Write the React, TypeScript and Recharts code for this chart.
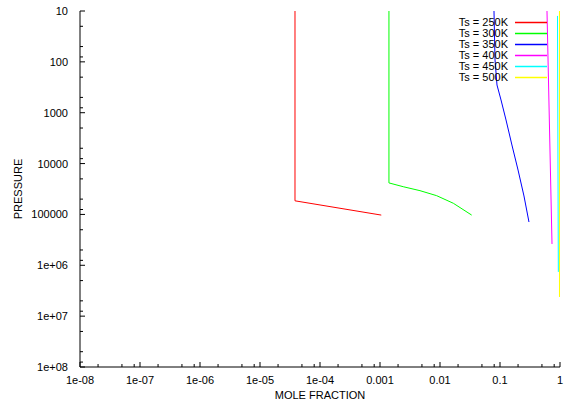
import React from 'react';
import { LineChart, Line, XAxis, YAxis, Legend } from 'recharts';

// mole fraction / pressure, one pair of arrays per surface temperature
const ts250X = [3.83e-5, 3.83e-5, 1.05e-3];
const ts250P = [10, 5.4e4, 1.03e5];

const ts300X = [1.41e-3, 1.41e-3, 2.44e-3, 4.64e-3, 8.8e-3, 1.67e-2, 3.37e-2];
const ts300P = [10, 2.4e4, 2.85e4, 3.41e4, 4.28e4, 6.04e4, 1.03e5];

const ts350X = [0.0794, 0.0826, 0.0891, 0.104, 0.126, 0.158, 0.2, 0.251, 0.304];
const ts350P = [10, 92, 285, 562, 1390, 4310, 1.34e4, 4.34e4, 1.41e5];

const ts400X = [0.607, 0.736];
const ts400P = [10, 3.81e5];

const ts450X = [0.908, 0.938];
const ts450P = [12.5, 1.35e6];

const ts500X = [0.98, 0.98];
const ts500P = [10, 4.2e6];

const seriesNames = ['Ts = 250K', 'Ts = 300K', 'Ts = 350K', 'Ts = 400K', 'Ts = 450K', 'Ts = 500K'];
const seriesColors = ['#ff0000', '#00ff00', '#0000ff', '#ff00ff', '#00ffff', '#ffff00'];

const xMajor = [1e-8, 1e-7, 1e-6, 1e-5, 1e-4, 1e-3, 1e-2, 1e-1, 1];
const xLabels = ['1e-08', '1e-07', '1e-06', '1e-05', '1e-04', '0.001', '0.01', '0.1', '1'];
const yMajor = [10, 100, 1000, 1e4, 1e5, 1e6, 1e7, 1e8];
const yLabels = ['10', '100', '1000', '10000', '100000', '1e+06', '1e+07', '1e+08'];
const minorSteps = [2, 5, 8];

const withMinor = (majors: number[]) => {
  const out: number[] = [];
  majors.forEach((m, i) => {
    out.push(m);
    if (i < majors.length - 1) minorSteps.forEach((s) => out.push(m * s));
  });
  return out;
};

const xTicks = withMinor(xMajor);
const yTicks = withMinor(yMajor);

const toPoints = (xs: number[], ps: number[]) => xs.map((x, i) => ({ x, p: ps[i] }));

const series = [
  toPoints(ts250X, ts250P),
  toPoints(ts300X, ts300P),
  toPoints(ts350X, ts350P),
  toPoints(ts400X, ts400P),
  toPoints(ts450X, ts450P),
  toPoints(ts500X, ts500P),
];

const FONT = '"Liberation Sans", Arial, Helvetica, sans-serif';

const majorIndex = (majors: number[], v: number) =>
  majors.findIndex((m) => Math.abs(m - v) / m < 1e-9);

const AxisTick = (props: any) => {
  const { x, y, payload, side, majors, labels } = props;
  const idx = majorIndex(majors, payload.value);
  const len = idx >= 0 ? 5 : 3;
  let line;
  let label = null;
  if (side === 'bottom') {
    line = <line x1={x} y1={y} x2={x} y2={y - len} stroke="#000" />;
    if (idx >= 0)
      label = (
        <text x={x} y={y + 17} textAnchor="middle" fontSize={11} fontFamily={FONT} fill="#000">
          {labels[idx]}
        </text>
      );
  } else if (side === 'top') {
    line = <line x1={x} y1={y} x2={x} y2={y + len} stroke="#000" />;
  } else if (side === 'left') {
    line = <line x1={x} y1={y} x2={x + len} y2={y} stroke="#000" />;
    if (idx >= 0)
      label = (
        <text x={x - 12} y={y + 4} textAnchor="end" fontSize={11} fontFamily={FONT} fill="#000">
          {labels[idx]}
        </text>
      );
  } else {
    line = <line x1={x} y1={y} x2={x - len} y2={y} stroke="#000" />;
  }
  return (
    <g>
      {line}
      {label}
    </g>
  );
};

const LegendBox = (props: any) => {
  const items = props.payload || [];
  return (
    <div style={{ fontFamily: FONT, fontSize: 11, lineHeight: '11px' }}>
      {items.map((it: any) => (
        <div key={it.value} style={{ display: 'flex', alignItems: 'center', justifyContent: 'flex-end', height: 11 }}>
          <span style={{ color: '#000', marginRight: 7 }}>{it.value}</span>
          <svg width={32} height={3}>
            <line x1={0} y1={1.5} x2={32} y2={1.5} stroke={it.color} strokeWidth={1.5} />
          </svg>
        </div>
      ))}
    </div>
  );
};

export default function App() {
  return (
    <div style={{ position: 'absolute', left: 0, top: 0, background: '#fff' }}>
      <LineChart width={569} height={406} margin={{ top: 11, right: 9, bottom: 0, left: 0 }}>
        <XAxis
          xAxisId="bottom"
          type="number"
          dataKey="x"
          scale="log"
          domain={[1e-8, 1]}
          allowDataOverflow
          ticks={xTicks}
          interval={0}
          tickSize={0}
          tickMargin={0}
          tickLine={false}
          height={39}
          axisLine={{ stroke: '#000' }}
          tick={(p: any) => <AxisTick {...p} side="bottom" majors={xMajor} labels={xLabels} />}
          label={{
            content: ({ viewBox }: any) => (
              <text
                x={viewBox.x + viewBox.width / 2}
                y={viewBox.y + 32}
                textAnchor="middle"
                fontSize={11}
                fontFamily={FONT}
                fill="#000"
              >
                MOLE FRACTION
              </text>
            ),
          }}
        />
        <XAxis
          xAxisId="top"
          orientation="top"
          type="number"
          dataKey="x"
          scale="log"
          domain={[1e-8, 1]}
          allowDataOverflow
          ticks={xTicks}
          interval={0}
          tickSize={0}
          tickMargin={0}
          tickLine={false}
          height={0}
          axisLine={{ stroke: '#000' }}
          tick={(p: any) => <AxisTick {...p} side="top" majors={xMajor} labels={xLabels} />}
        />
        <YAxis
          yAxisId="left"
          type="number"
          dataKey="p"
          scale="log"
          reversed
          domain={[10, 1e8]}
          allowDataOverflow
          ticks={yTicks}
          interval={0}
          tickSize={0}
          tickMargin={0}
          tickLine={false}
          width={80}
          axisLine={{ stroke: '#000' }}
          tick={(p: any) => <AxisTick {...p} side="left" majors={yMajor} labels={yLabels} />}
          label={{
            content: ({ viewBox }: any) => {
              const cx = viewBox.x + 22;
              const cy = viewBox.y + viewBox.height / 2;
              return (
                <text
                  x={cx}
                  y={cy}
                  transform={`rotate(-90 ${cx} ${cy})`}
                  textAnchor="middle"
                  fontSize={11}
                  fontFamily={FONT}
                  fill="#000"
                >
                  PRESSURE
                </text>
              );
            },
          }}
        />
        <YAxis
          yAxisId="right"
          orientation="right"
          type="number"
          dataKey="p"
          scale="log"
          reversed
          domain={[10, 1e8]}
          allowDataOverflow
          ticks={yTicks}
          interval={0}
          tickSize={0}
          tickMargin={0}
          tickLine={false}
          width={0}
          axisLine={{ stroke: '#000' }}
          tick={(p: any) => <AxisTick {...p} side="right" majors={yMajor} labels={yLabels} />}
        />
        <Legend
          verticalAlign="middle"
          align="center"
          layout="vertical"
          content={<LegendBox />}
          wrapperStyle={{ top: 17, right: 22, left: 'auto', bottom: 'auto', width: 'auto', height: 'auto' }}
        />
        {series.map((d, i) => (
          <Line
            key={seriesNames[i]}
            xAxisId="bottom"
            yAxisId="left"
            data={d}
            dataKey="p"
            name={seriesNames[i]}
            type="linear"
            stroke={seriesColors[i]}
            strokeWidth={1}
            dot={false}
            activeDot={false}
            isAnimationActive={false}
          />
        ))}
      </LineChart>
    </div>
  );
}
